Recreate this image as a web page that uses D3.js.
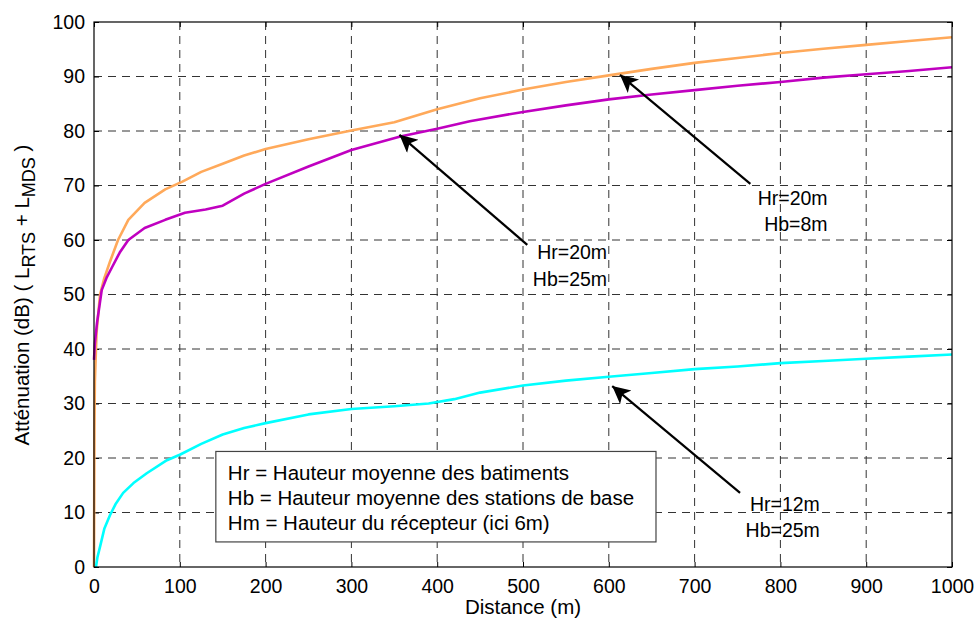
<!DOCTYPE html>
<html><head><meta charset="utf-8">
<script src="https://cdn.jsdelivr.net/npm/d3@7"></script>
<style>
body{margin:0;background:#fff;}
text{font-family:"Liberation Sans",Arial,sans-serif;fill:#000;}
</style></head>
<body>
<svg id="c" width="977" height="621"></svg>
<script>
// ---- data ----
const xTicks = [0,100,200,300,400,500,600,700,800,900,1000];
const yTicks = [0,10,20,30,40,50,60,70,80,90,100];

const orangeX = [0,0.5,1,3,7,12,18.6,28,40,59,83,103,125,150,175,200,250,300,350,400,450,500,550,600,650,700,750,800,850,900,950,1000];
const orangeY = [0,25,34,43,50,53,56,60,63.7,66.8,69.3,70.7,72.5,74,75.5,76.7,78.5,80.1,81.6,84,86,87.6,89,90.2,91.4,92.5,93.4,94.3,95.1,95.8,96.5,97.2];

const purpleX = [0,1,3.5,9,15,21,30,40,59,83,106,130,150,175,200,250,300,357,400,438,500,550,600,650,700,750,800,850,900,950,1000];
const purpleY = [38,41,44.8,50.8,53.2,55,57.7,60,62.2,63.7,65,65.6,66.3,68.5,70.3,73.5,76.5,79,80.4,81.8,83.5,84.7,85.8,86.7,87.5,88.3,89,89.8,90.4,91,91.7];

const cyanX = [2.3,4,7,12,18.6,25,34,46,61.5,85,100,125,150,175,200,250,300,350,390,420,450,500,550,600,650,700,750,800,850,900,950,1000];
const cyanY = [0,1.8,3.7,7,9.5,11.5,13.6,15.4,17.2,19.6,20.6,22.6,24.3,25.5,26.4,28,29,29.5,30,30.8,32,33.3,34.2,34.9,35.6,36.3,36.8,37.4,37.8,38.2,38.6,39];

const seriesColors = ["#FFA95A","#C000C0","#00FFFF"];

// annotations: [tailX, tailY, tipX, tipY] in data units, labels
const arrowTail = [[505,59.1],[765,70.3],[753,13.6]];
const arrowTip  = [[356,79.3],[613,90.3],[604,33.2]];
const annLabels = [["Hr=20m","Hb=25m"],["Hr=20m","Hb=8m"],["Hr=12m","Hb=25m"]];
const annPos = [[598,56.5],[855,66.5],[846,10.3]]; // right edge x, first baseline y

const legendLines = ["Hr = Hauteur moyenne des batiments","Hb = Hauteur moyenne des stations de base","Hm = Hauteur du récepteur (ici 6m)"];

// ---- chart ----
const svg = d3.select("#c");
const L=94, R=952, T=22, B=567;
const x = d3.scaleLinear().domain([0,1000]).range([L,R]);
const y = d3.scaleLinear().domain([0,100]).range([B,T]);

// grid
const g = svg.append("g");
g.selectAll(".vg").data(xTicks.slice(1,-1)).join("line")
 .attr("x1",d=>x(d)).attr("x2",d=>x(d)).attr("y1",T).attr("y2",B)
 .attr("stroke","#333").attr("stroke-width",1).attr("stroke-dasharray","8,6");
g.selectAll(".hg").data(yTicks.slice(1,-1)).join("line")
 .attr("y1",d=>y(d)).attr("y2",d=>y(d)).attr("x1",L).attr("x2",R)
 .attr("stroke","#333").attr("stroke-width",1).attr("stroke-dasharray","8,6");

// axes
const fs = 19.5;
const xAxB = d3.axisBottom(x).tickValues(xTicks).tickSizeInner(-5).tickSizeOuter(0).tickPadding(12).tickFormat(d3.format("d"));
const xAxT = d3.axisTop(x).tickValues(xTicks).tickSizeInner(-5).tickSizeOuter(0).tickFormat("");
const yAxL = d3.axisLeft(y).tickValues(yTicks).tickSizeInner(-5).tickSizeOuter(0).tickPadding(9).tickFormat(d3.format("d"));
const yAxR = d3.axisRight(y).tickValues(yTicks).tickSizeInner(-5).tickSizeOuter(0).tickFormat("");
function styleAx(sel){
  sel.selectAll("path").remove();
  sel.selectAll("line").attr("stroke","#000");
  sel.selectAll("text").attr("font-size",fs).attr("font-family","Liberation Sans, Arial, sans-serif").attr("fill","#000");
}
svg.append("g").attr("transform",`translate(0,${B})`).call(xAxB).call(styleAx);
svg.append("g").attr("transform",`translate(0,${T})`).call(xAxT).call(styleAx);
svg.append("g").attr("transform",`translate(${L},0)`).call(yAxL).call(styleAx);
svg.append("g").attr("transform",`translate(${R},0)`).call(yAxR).call(styleAx);

// series
const line = d3.line().x(d=>x(d[0])).y(d=>y(d[1]));
const series = [d3.zip(orangeX,orangeY), d3.zip(purpleX,purpleY), d3.zip(cyanX,cyanY)];
svg.append("g").selectAll("path").data(series).join("path")
 .attr("d",line).attr("fill","none").attr("stroke",(d,i)=>seriesColors[i])
 .attr("stroke-width",2.6).attr("stroke-linejoin","round");

// box
svg.append("rect").attr("x",L).attr("y",T).attr("width",R-L).attr("height",B-T)
 .attr("fill","none").attr("stroke","#000").attr("stroke-width",1.2);

// arrows
svg.append("defs").append("marker").attr("id","ah").attr("viewBox","0 0 10 10")
 .attr("refX",10).attr("refY",5).attr("markerWidth",9).attr("markerHeight",8)
 .attr("markerUnits","strokeWidth").attr("orient","auto")
 .append("path").attr("d","M0,0 L10,5 L0,10 L2.5,5 Z").attr("fill","#000");
arrowTail.forEach((t,i)=>{
  svg.append("line").attr("x1",x(t[0])).attr("y1",y(t[1]))
   .attr("x2",x(arrowTip[i][0])).attr("y2",y(arrowTip[i][1]))
   .attr("stroke","#000").attr("stroke-width",2.2).attr("marker-end","url(#ah)");
});
annLabels.forEach((lab,i)=>{
  const tx = svg.append("text").attr("text-anchor","end").attr("font-size",fs);
  lab.forEach((s,j)=>{
    tx.append("tspan").attr("x",x(annPos[i][0])).attr("y",y(annPos[i][1])+j*26.5).text(s);
  });
});

// legend box
const lg = svg.append("g");
lg.append("rect").attr("x",x(142)).attr("y",y(21.2)).attr("width",x(655)-x(142)).attr("height",y(4.6)-y(21.2))
 .attr("fill","#fff").attr("stroke","#444").attr("stroke-width",1.2);
legendLines.forEach((s,j)=>{
  lg.append("text").attr("x",x(156)).attr("y",y(21.2)+29+j*25).attr("font-size",20.5).text(s);
});

// axis labels
svg.append("text").attr("x",(L+R)/2).attr("y",614).attr("text-anchor","middle").attr("font-size",20.5).text("Distance (m)");
const yl = svg.append("text").attr("transform","translate(29,295) rotate(-90)").attr("text-anchor","middle").attr("font-size",20.5);
yl.append("tspan").text("Atténuation (dB) ( L");
yl.append("tspan").attr("dy",6).attr("font-size",18).text("RTS");
yl.append("tspan").attr("dy",-6).text(" + L");
yl.append("tspan").attr("dy",6).attr("font-size",18).text("MDS");
yl.append("tspan").attr("dy",-6).text(" )");
</script>
</body></html>
